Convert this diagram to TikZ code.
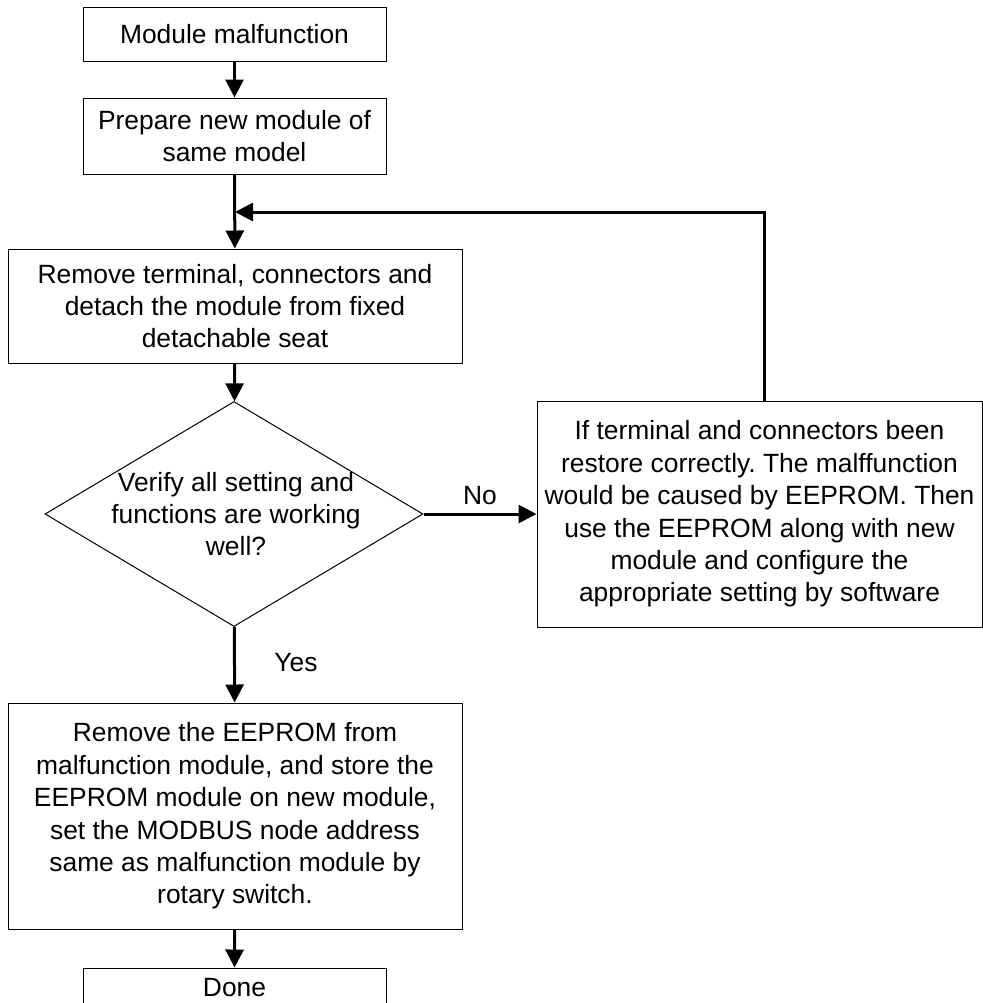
\documentclass[tikz,border=0pt]{standalone}
\usepackage{fontspec}
\setmainfont{Liberation Sans}
\usepackage{tikz}
\usetikzlibrary{arrows.meta,shapes.geometric}
\frenchspacing
\newcommand{\flowfont}{\fontsize{13.2}{16.2}\selectfont}
\tikzset{
  >={Triangle[length=9pt,width=9pt]},
  box/.style={draw,line width=0.5pt,align=center,inner sep=0pt,font=\flowfont},
  smallbox/.style={box,minimum width=151.5pt},
  widebox/.style={box,minimum width=227pt},
  decision/.style={draw,diamond,line width=0.5pt,inner sep=0pt,
                   minimum width=189pt,minimum height=112.5pt},
  txt/.style={align=center,inner sep=0pt,font=\flowfont},
  arr/.style={->,line width=1.5pt},
}
\begin{document}
\begin{tikzpicture}[x=0.5pt,y=-0.5pt]
  \useasboundingbox (0,0) rectangle (983,1003);
  \node[smallbox,minimum height=27pt]  (start) at (234.5,34)  {Module malfunction};
  \node[smallbox,minimum height=38pt]  (prep)  at (234.5,136) {Prepare new module of\\same model};
  \node[widebox,minimum height=57pt]   (detach)at (235,306)   {Remove terminal, connectors and\\detach the module from fixed\\detachable seat};
  \node[decision]                      (check) at (234,514)   {};
  \node[txt]                           (checkt)at (236,514)   {Verify all setting and\\functions are working\\well?};
  \node[box,minimum width=222.5pt,minimum height=113pt]
                                       (eeprom)at (759.5,514) {If terminal and connectors been\\restore correctly. The malffunction\\would be caused by EEPROM. Then\\use the EEPROM along with new\\module and configure the\\appropriate setting by software};
  \node[widebox,minimum height=113pt]  (swap)  at (235,816)   {Remove the EEPROM from\\malfunction module, and store the\\EEPROM module on new module,\\set the MODBUS node address\\same as malfunction module by\\rotary switch.};
  \node[smallbox,minimum height=20pt]  (done)  at (234.5,988) {Done};

  \coordinate (join) at (235,212);
  \coordinate (fb)   at (764,212);

  \draw[arr] (start) -- (prep);
  \draw[arr] (prep) -- (detach);
  \draw[arr] (detach) -- (check);
  \draw[arr] (check) -- (eeprom) node[txt,pos=0.5,above=4pt] (no) {No};
  \draw[arr] (check) -- (swap);
  \draw[arr] (swap) -- (done);
  % back to the removal step
  \draw[arr] (eeprom.north -| fb) -- (fb) -- (join);

  \node[txt] (yes) at (296,663) {Yes};
\end{tikzpicture}
\end{document}
